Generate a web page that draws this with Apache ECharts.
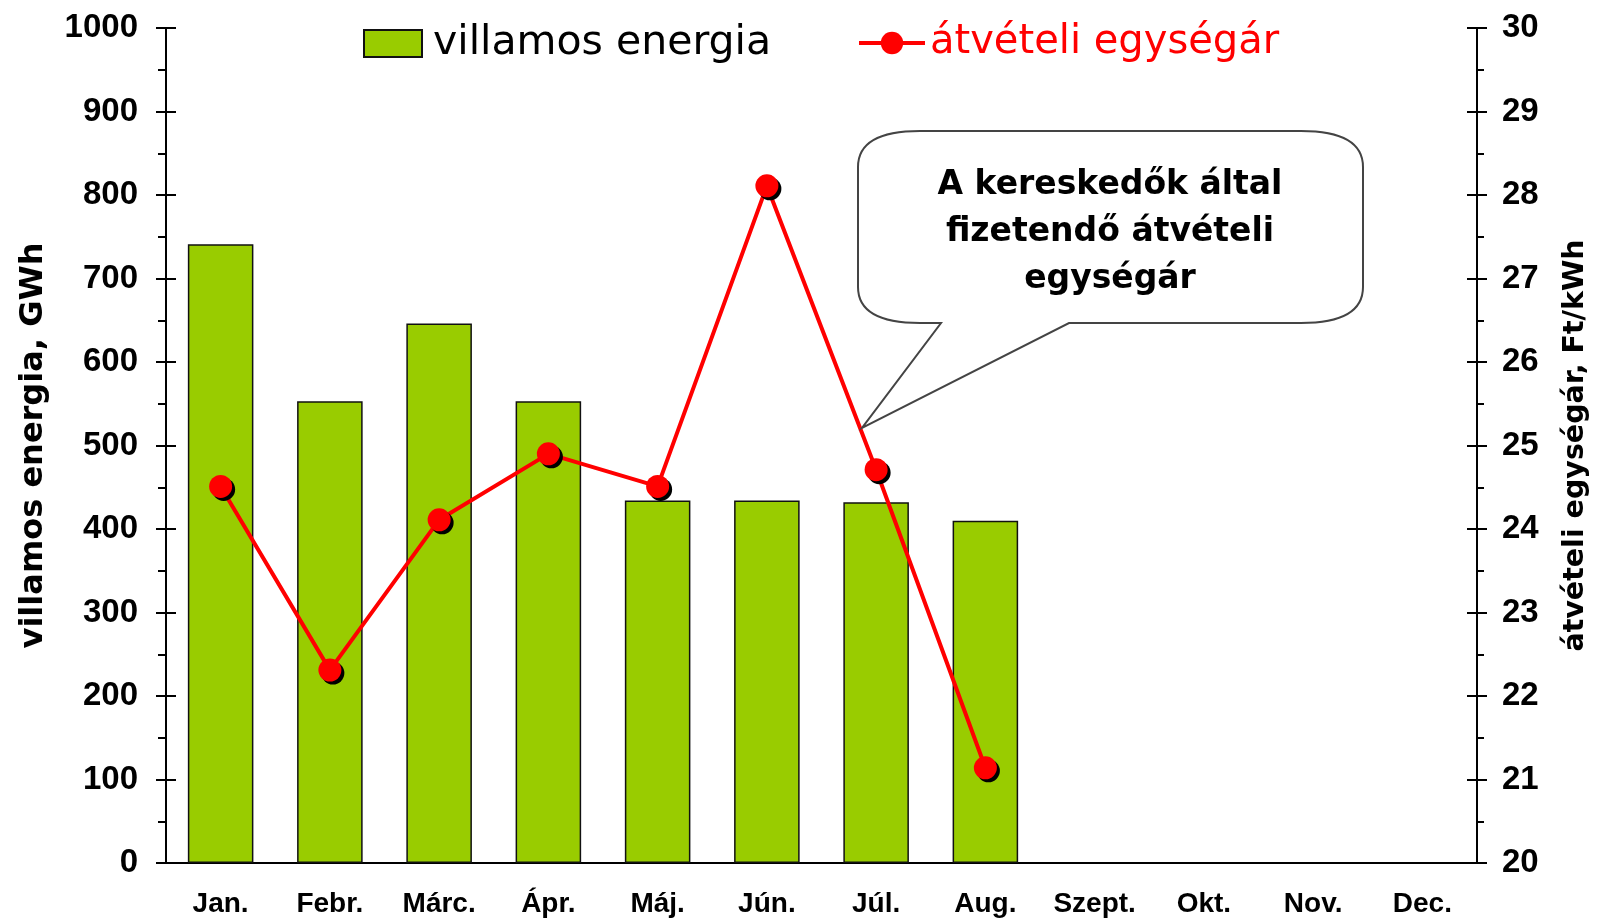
<!DOCTYPE html>
<html>
<head>
<meta charset="utf-8">
<title>villamos energia</title>
<script src="https://cdn.jsdelivr.net/npm/echarts@6/dist/echarts.min.js"></script>
<style>
    html, body { margin: 0; padding: 0; background: #fff; }
    #main { width: 1599px; height: 921px; }
</style>
</head>
<body>
<div id="main"></div>
<script>
// adatok
const months = ['Jan.', 'Febr.', 'Márc.', 'Ápr.', 'Máj.', 'Jún.', 'Júl.', 'Aug.', 'Szept.', 'Okt.', 'Nov.', 'Dec.'];
const energia = [741, 553, 646, 553, 434, 434, 432, 410];          // GWh
const egysegar = [24.51, 22.31, 24.11, 24.90, 24.51, 28.11, 24.71, 21.14]; // Ft/kWh
const leftTicks = { min: 0, max: 1000, interval: 100 };
const rightTicks = { min: 20, max: 30, interval: 1 };
const calloutText = ['A kereskedők által', 'fizetendő átvételi', 'egységár'];

const numFont = 'Liberation Sans';
const textFont = 'DejaVu Sans';

// szövegbuborék alakzat (lekerekített doboz + csúcs)
echarts.graphic.registerShape('callout', echarts.graphic.extendShape({
    shape: { x: 0, y: 0, width: 0, height: 0, rx: 0, ry: 0, t1: 0, t2: 0, tipX: 0, tipY: 0 },
    buildPath: function (ctx, s) {
        let l = s.x, t = s.y, r = s.x + s.width, b = s.y + s.height;
        ctx.moveTo(l + s.rx, t);
        ctx.lineTo(r - s.rx, t);
        ctx.quadraticCurveTo(r, t, r, t + s.ry);
        ctx.lineTo(r, b - s.ry);
        ctx.quadraticCurveTo(r, b, r - s.rx, b);
        ctx.lineTo(s.t2, b);
        ctx.lineTo(s.tipX, s.tipY);
        ctx.lineTo(s.t1, b);
        ctx.lineTo(l + s.rx, b);
        ctx.quadraticCurveTo(l, b, l, b - s.ry);
        ctx.lineTo(l, t + s.ry);
        ctx.quadraticCurveTo(l, t, l + s.rx, t);
        ctx.closePath();
    }
}));

let myChart = echarts.init(document.getElementById('main'));

let option = {
    animation: false,
    grid: { left: 166, right: 122, top: 28, bottom: 58, containLabel: false },
    legend: [{
        data: [{ name: 'villamos energia', icon: 'rect' }],
        left: 363, top: 23,
        padding: 0,
        itemWidth: 58, itemHeight: 27,
        selectedMode: false,
        textStyle: { fontFamily: textFont, fontSize: 41, color: '#000', lineHeight: 40, padding: [0, 0, 0, 6] }
    }, {
        data: ['átvételi egységár'],
        left: 857, top: 23,
        padding: 0,
        itemWidth: 66, itemHeight: 28,
        selectedMode: false,
        lineStyle: { width: 4, color: '#ff0000' },
        itemStyle: { color: '#ff0000', shadowOffsetX: 0, shadowOffsetY: 0 },
        textStyle: { fontFamily: textFont, fontSize: 40, color: '#ff0000', lineHeight: 40 }
    }],
    xAxis: [{
        type: 'category',
        data: months,
        position: 'bottom',
        axisLine: { lineStyle: { color: '#000', width: 2 } },
        axisTick: { length: 10, lineStyle: { color: '#000', width: 2 } },
        axisLabel: { fontFamily: numFont, fontWeight: 'bold', fontSize: 28, color: '#000', margin: 27, interval: 0 },
        splitLine: { show: false }
    }, {
        // csak a befelé álló osztásjelek
        type: 'category',
        data: months,
        position: 'bottom',
        offset: 0,
        axisLine: { show: false },
        axisTick: { inside: true, length: 8, lineStyle: { color: '#000', width: 2 } },
        axisLabel: { show: false },
        splitLine: { show: false }
    }],
    yAxis: [{
        type: 'value',
        position: 'left',
        min: leftTicks.min, max: leftTicks.max, interval: leftTicks.interval,
        name: 'villamos energia, GWh',
        nameLocation: 'middle',
        nameRotate: 90,
        nameGap: 116,
        nameTextStyle: { fontFamily: textFont, fontWeight: 'bold', fontSize: 32, color: '#000' },
        axisLine: { show: true, lineStyle: { color: '#000', width: 2 } },
        axisTick: { show: true, length: 10, lineStyle: { color: '#000', width: 2 } },
        minorTick: { show: true, splitNumber: 2, length: 8, lineStyle: { color: '#000', width: 2 } },
        axisLabel: {
            fontFamily: numFont, fontWeight: 'bold', fontSize: 33, color: '#000', margin: 28,
            formatter: function (v) { return String(v); }
        },
        splitLine: { show: false }
    }, {
        type: 'value',
        position: 'right',
        min: rightTicks.min, max: rightTicks.max, interval: rightTicks.interval,
        name: 'átvételi egységár, Ft/kWh',
        nameLocation: 'middle',
        nameRotate: 90,
        nameGap: 84,
        nameTextStyle: { fontFamily: textFont, fontWeight: 'bold', fontSize: 28.5, color: '#000' },
        axisLine: { show: true, lineStyle: { color: '#000', width: 2 } },
        axisTick: { show: true, length: 10, lineStyle: { color: '#000', width: 2 } },
        minorTick: { show: true, splitNumber: 2, length: 7, lineStyle: { color: '#000', width: 2 } },
        axisLabel: { fontFamily: numFont, fontWeight: 'bold', fontSize: 33, color: '#000', margin: 25 },
        splitLine: { show: false }
    }, {
        type: 'value',
        position: 'left',
        offset: 0,
        min: leftTicks.min, max: leftTicks.max, interval: leftTicks.interval,
        axisLine: { show: false },
        axisTick: { show: true, inside: true, length: 10, lineStyle: { color: '#000', width: 2 } },
        axisLabel: { show: false },
        splitLine: { show: false }
    }, {
        type: 'value',
        position: 'right',
        offset: 0,
        min: rightTicks.min, max: rightTicks.max, interval: rightTicks.interval,
        axisLine: { show: false },
        axisTick: { show: true, inside: true, length: 10, lineStyle: { color: '#000', width: 2 } },
        axisLabel: { show: false },
        splitLine: { show: false }
    }],
    series: [{
        name: 'villamos energia',
        type: 'bar',
        xAxisIndex: 0,
        yAxisIndex: 0,
        barCategoryGap: '40%',
        itemStyle: { color: '#99cc00', borderColor: '#111', borderWidth: 1.5 },
        data: energia
    }, {
        name: 'átvételi egységár',
        type: 'line',
        xAxisIndex: 0,
        yAxisIndex: 1,
        symbol: 'circle',
        symbolSize: 23,
        z: 5,
        lineStyle: { color: '#ff0000', width: 4 },
        itemStyle: {
            color: '#ff0000',
            shadowColor: '#000',
            shadowBlur: 0,
            shadowOffsetX: 3,
            shadowOffsetY: 3
        },
        data: egysegar
    }],
    graphic: [{
        type: 'callout',
        z: 10,
        shape: { x: 858, y: 131, width: 505, height: 192, rx: 62, ry: 36, t1: 941, t2: 1069, tipX: 862, tipY: 428 },
        style: { fill: '#fff', stroke: '#444', lineWidth: 2 }
    }, {
        type: 'text',
        z: 11,
        x: 1110,
        y: 232,
        style: {
            text: calloutText.join('\n'),
            fontFamily: textFont,
            fontWeight: 'bold',
            fontSize: 33,
            lineHeight: 47,
            fill: '#000',
            align: 'center',
            verticalAlign: 'middle'
        }
    }]
};

myChart.setOption(option);
</script>
</body>
</html>
